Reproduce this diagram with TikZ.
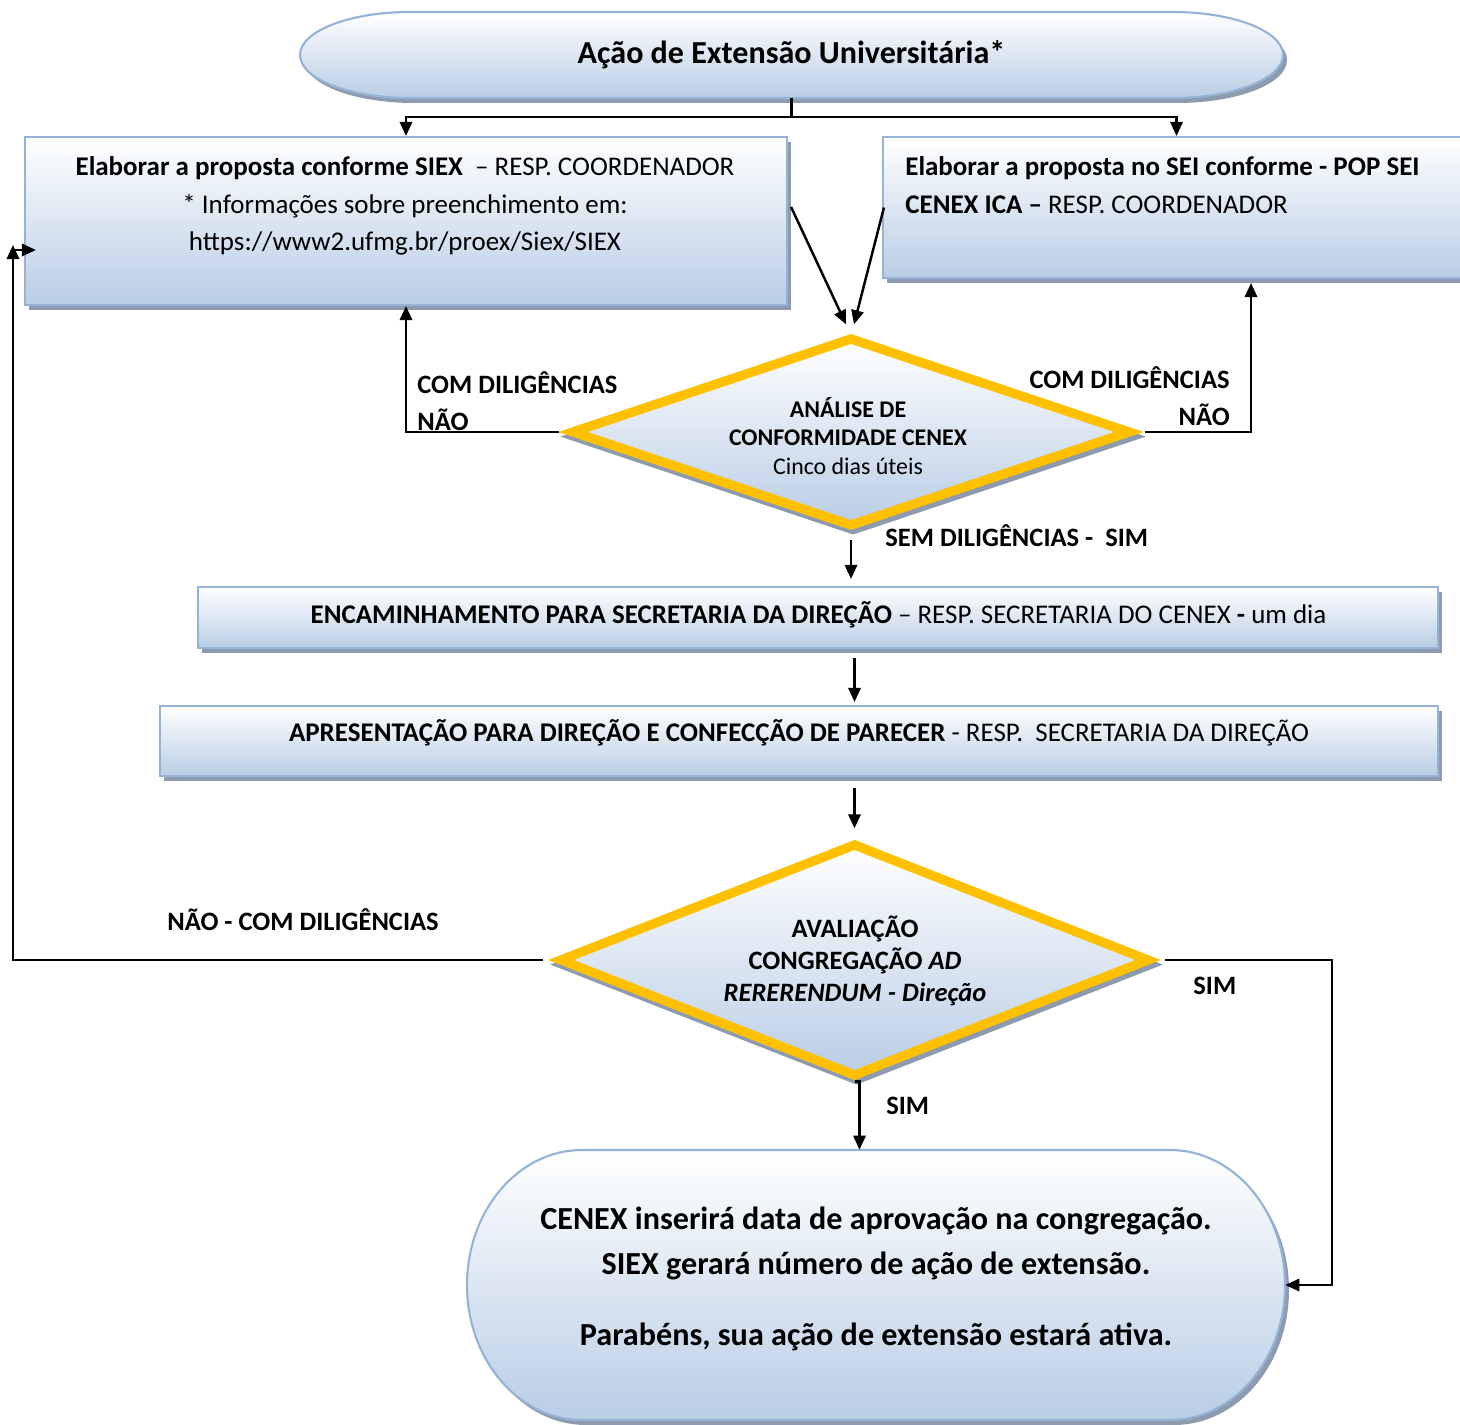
\documentclass[tikz,border=0pt]{standalone}
\usepackage{fontspec}
\setmainfont{Carlito}
\usetikzlibrary{shapes.geometric,arrows.meta,shadows,calc,fit}
\definecolor{gbot}{HTML}{B9CDE5}
\definecolor{bord}{HTML}{95B3D7}
\definecolor{shad}{HTML}{8E9BAE}
\definecolor{orng}{HTML}{FFC000}
\newcommand\stadiumshape[5]{% x1 y1 x2 y2 rx
  \pgfmathsetmacro\sry{(#4-#2)/2}
  \fill[shad] (#1+#5+4,#2+5) -- (#3-#5+4,#2+5) arc[start angle=-90,end angle=90,x radius=#5,y radius=\sry] -- (#1+#5+4,#4+5) arc[start angle=90,end angle=270,x radius=#5,y radius=\sry] -- cycle;
  \draw[draw=bord,line width=1.2pt,top color=white,bottom color=gbot] (#1+#5,#2) -- (#3-#5,#2) arc[start angle=-90,end angle=90,x radius=#5,y radius=\sry] -- (#1+#5,#4) arc[start angle=90,end angle=270,x radius=#5,y radius=\sry] -- cycle;
}
\tikzset{
  boxshape/.style={draw=bord, line width=1.2pt, top color=white, bottom color=gbot, inner sep=0pt,
    general shadow={fill=shad, shadow xshift=2.3pt, shadow yshift=-2.8pt}},
  dshape/.style={shape=diamond, draw=orng, line width=5.3pt, top color=white, bottom color=gbot, inner sep=0pt,
    general shadow={fill=shad, draw=shad, line width=5.3pt, shadow xshift=1.2pt, shadow yshift=-2.6pt}},
  conn/.style={line width=1.4pt, draw=black},
  arr/.style={conn, -{Triangle[length=8pt,width=7pt]}},
  txt/.style={font=\fontsize{15.35}{21.5}\selectfont, inner sep=0pt},
  lbl/.style={font=\fontsize{15.1}{18}\selectfont\bfseries, inner sep=0pt},
}
\begin{document}
\begin{tikzpicture}[x=0.02cm,y=-0.02cm]
\fill[white] (0,0) rectangle (1460,1425);
\useasboundingbox (0,0) rectangle (1460,1425);

% top terminator
\stadiumshape{300}{12}{1283}{98}{110}
\node[font=\fontsize{18.25}{22}\selectfont\bfseries, inner sep=0pt, minimum width=19.66cm, minimum height=1.72cm] (top) at (791.5,55) {Ação de Extensão Universitária*};

% boxes
\node[boxshape, fit={(25,137)(787,305)}] (lbox) {};
\node[txt, align=center] (lboxt) at (405,206) {\textbf{Elaborar a proposta conforme SIEX}~ – RESP. COORDENADOR\\ * Informações sobre preenchimento em:\\ https://www2.ufmg.br/proex/Siex/SIEX};

\node[boxshape, fit={(883,137)(1470,278)}] (rbox) {};
\node[txt, align=left, anchor=west] (rboxt) at (905,185) {\textbf{Elaborar a proposta no SEI conforme - POP SEI}\\ \textbf{CENEX ICA –} RESP. COORDENADOR};

\node[boxshape, fit={(198,587)(1438,648)}] (b3) {};
\node[txt] (b3t) at (818.5,615) {\textbf{ENCAMINHAMENTO PARA SECRETARIA DA DIREÇÃO} – RESP. SECRETARIA DO CENEX \textbf{-} um dia};

\node[boxshape, fit={(160,706)(1438,776)}] (b4) {};
\node[txt] (b4t) at (799,733) {\textbf{APRESENTAÇÃO PARA DIREÇÃO E CONFECÇÃO DE PARECER} - RESP.\ \ SECRETARIA DA DIREÇÃO};

% diamonds
\node[dshape, minimum width=11.2cm, minimum height=3.8cm] (d1) at (851,432) {};
\node[font=\fontsize{13.6}{16.4}\selectfont, inner sep=0pt, align=center] (d1t) at (848,436) {\textbf{ANÁLISE DE}\\ \textbf{CONFORMIDADE CENEX}\\ Cinco dias úteis};

\node[dshape, minimum width=11.82cm, minimum height=4.68cm] (d2) at (854.5,960) {};
\node[font=\fontsize{15.1}{18.4}\selectfont\bfseries, inner sep=0pt, align=center] (d2t) at (855,961) {AVALIAÇÃO\\ CONGREGAÇÃO \textit{AD}\\ \textit{RERERENDUM - Direção}};

% final terminator
\stadiumshape{467}{1150}{1285}{1420}{115}
\node[inner sep=0pt, minimum width=16.36cm, minimum height=5.4cm] (fin) at (876,1285) {};
\node[font=\fontsize{18.3}{25.5}\selectfont\bfseries, inner sep=0pt, align=center] (fint) at (876,1279) {CENEX inserirá data de aprovação na congregação.\\ SIEX gerará número de ação de extensão.\\[15pt] Parabéns, sua ação de extensão estará ativa.};

% connectors
\coordinate (j) at (791.5,117);
\draw[conn] (top.south) -- (j);
\draw[arr] (j) -| (lbox.north);
\draw[arr] (j) -| (rbox.north);

\draw[arr] ($(lbox.east)+(3,-14)$) -- ($(d1.north)+(-5,-8)$);
\draw[arr] ($(rbox.west)+(2,0)$) -- ($(d1.north)+(3,-8)$);

\draw[arr, shorten <=0.14cm] (d1.west) -| (lbox.south);
\coordinate (rb) at (1251,283);
\draw[arr, shorten <=0.18cm] (d1.east) -| (rb);

\draw[arr, shorten <=0.16cm, shorten >=0.14cm] (d1.south) -- (d1.south |- b3.north);
\draw[arr, shorten <=0.18cm, shorten >=0.06cm] (b3.south -| d2.north) -- (b4.north -| d2.north);
\draw[arr, shorten <=0.22cm, shorten >=0.2cm] (b4.south -| d2.north) -- (d2.north);

\coordinate (lup) at (13,245);
\coordinate (lin) at (13,250);
\draw[arr, shorten <=0.22cm] (d2.west) -| (lup);
\draw[arr] (lin) -- ($(lin -| lbox.west)+(12,0)$);

\coordinate (rr) at (1332,0);
\draw[arr, shorten <=0.2cm] (d2.east) -| (rr |- fin.east) -- (fin.east);

\coordinate (ds) at ($(d2.south)+(5,0)$);
\draw[arr] (d2.south) -- (ds) -- (ds |- fin.north);

% labels
\node[lbl, anchor=west] (l1) at (417,383) {COM DILIGÊNCIAS};
\node[lbl, anchor=west] (l2) at (417,420) {NÃO};
\node[lbl, anchor=east] (l3) at (1230,378) {COM DILIGÊNCIAS};
\node[lbl, anchor=east] (l4) at (1230,415) {NÃO};
\node[lbl, anchor=west] (l5) at (885,536) {SEM DILIGÊNCIAS -\ \ SIM};
\node[lbl, anchor=west] (l6) at (167,920) {NÃO - COM DILIGÊNCIAS};
\node[lbl, anchor=west] (l7) at (1193,986) {SIM};
\node[lbl, anchor=west] (l8) at (886,1106) {SIM};
\end{tikzpicture}
\end{document}
